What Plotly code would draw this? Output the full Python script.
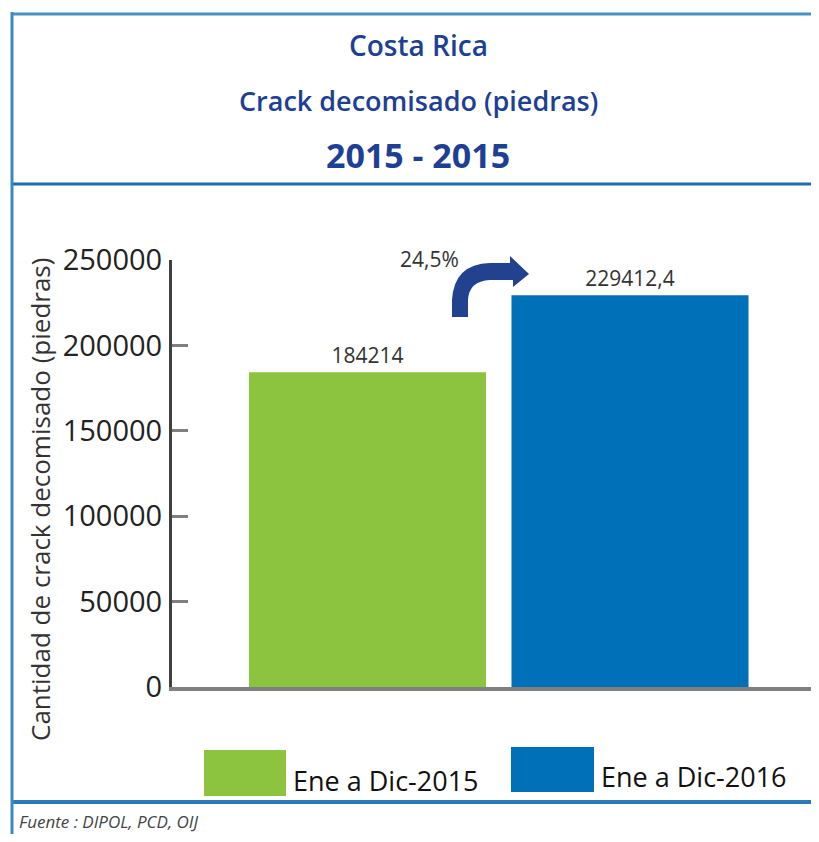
import plotly.graph_objects as go

# ---- data ----
categories = ["Ene a Dic-2015", "Ene a Dic-2016"]
values = [184214, 229412.4]
bar_colors = ["#8cc43f", "#0070b9"]
y_ticks = [0, 50000, 100000, 150000, 200000, 250000]
title_lines = ["Costa Rica", "Crack decomisado (piedras)", "2015 - 2015"]
y_title = "Cantidad de crack decomisado (piedras)"
source_text = "Fuente : DIPOL, PCD, OIJ"

OFF = 8  # browser body margin
W, H = 819 - 2 * OFF, 826
L, R, T, B = 172, OFF + W, 260, 687  # plot area in page pixels
PAGE_BOTTOM = OFF + H
C0, UNIT = 367.5, 262.5  # first bar centre and bar spacing in page pixels


def px(xp):
    return (xp - L) / (R - L)


def py(yp):
    return (B - yp) / (B - T)


def fmt(v):
    s = f"{v:.1f}".rstrip("0").rstrip(".")
    return s.replace(".", ",")


fig = go.Figure()
for i, (cat, val, col) in enumerate(zip(categories, values, bar_colors)):
    fig.add_trace(go.Bar(
        x=[i], y=[val], name=cat, marker=dict(color=col, line=dict(width=0)),
        width=0.903, text=[fmt(val)], textposition="outside",
        textfont=dict(size=21, color="#333333", family="Open Sans"),
        cliponaxis=False, showlegend=False,
    ))


def ann(text, xp, yp, size, color, xanchor="center", **kw):
    font = dict(size=size, color=color, family=kw.pop("family", "Open Sans"))
    font.update(kw.pop("font_extra", {}))
    d = dict(text=text, x=px(xp), y=py(yp), xref="paper", yref="paper",
             xanchor=xanchor, yanchor="middle", showarrow=False, font=font)
    d.update(kw)
    return d


pct = (values[1] / values[0] - 1) * 100
annotations = [
    ann(f"{pct:.1f}%".replace(".", ","), 429, 259, 21, "#333333"),
    ann(y_title, 40, 500, 26, "#333333", textangle=-90),
    ann(source_text, 17, 821, 17, "#444444", xanchor="left", font_extra=dict(style="italic")),
]
title_specs = [(45, 28, 600), (100, 27, 600), (155, 34, 700)]
for line, (yp, size, wt) in zip(title_lines, title_specs):
    annotations.append(ann(line, 418, yp, size, "#1d3f94", font_extra=dict(weight=wt)))

# custom legend
legend_boxes = [(204, 286, 750, 796, 291, 780), (511, 594, 747, 792, 599, 776)]
shapes = []
for cat, col, (x0, x1, y0, y1, tx, ty) in zip(categories, bar_colors, legend_boxes):
    shapes.append(dict(type="rect", xref="paper", yref="paper", x0=px(x0), x1=px(x1),
                       y0=py(y1), y1=py(y0), fillcolor=col, line=dict(width=0)))
    annotations.append(ann(cat, tx, ty, 27, "#111111", xanchor="left"))

# frame lines
frame = [
    (14, "#4a92c6", 3),
    (184, "#1a6aae", 3),
    (802, "#2c7ab8", 4),
]
for yp, col, w in frame:
    shapes.append(dict(type="line", xref="paper", yref="paper", x0=px(12), x1=1.0,
                       y0=py(yp), y1=py(yp), line=dict(color=col, width=w)))
shapes.append(dict(type="line", xref="paper", yref="paper", x0=px(12), x1=px(12),
                   y0=py(12), y1=py(PAGE_BOTTOM), line=dict(color="#3a8ac4", width=3)))

# curved arrow
pts = "M {a} {b} L {c} {d} Q {e} {f} {g} {h} L {i} {h} L {i} {j} L {k} {l} L {m} {n} L {m} {o} L {g} {o} Q {p} {q} {r} {d} L {r} {b} Z"
arrow = pts.format(
    a=px(452), b=py(317), c=px(452), d=py(300), e=px(454), f=py(264), g=px(490), h=py(263),
    i=px(510), j=py(256), k=px(529), l=py(274), m=px(513), n=py(287), o=py(280),
    p=px(469), q=py(281), r=px(468),
)
shapes.append(dict(type="path", xref="paper", yref="paper", path=arrow,
                   fillcolor="#22428f", line=dict(width=0)))

fig.update_layout(
    width=W, height=H,
    margin=dict(l=L - OFF, r=OFF + W - R, t=T - OFF, b=PAGE_BOTTOM - B, pad=0),
    paper_bgcolor="white", plot_bgcolor="white",
    barmode="overlay",
    shapes=shapes, annotations=annotations,
    showlegend=False,
    xaxis=dict(range=[(L - C0) / UNIT, (R - C0) / UNIT], showticklabels=False,
               showgrid=False, zeroline=False,
               showline=True, linecolor="#808080", linewidth=4, ticks=""),
    yaxis=dict(range=[0, 250000], tickvals=y_ticks, ticktext=[str(v) for v in y_ticks],
               showgrid=False, zeroline=False, showline=True, linecolor="#404040", linewidth=3,
               ticks="inside", ticklen=16, tickwidth=3, tickcolor="#808080",
               ticklabelstandoff=1,
               tickfont=dict(size=29, color="#222222", family="Open Sans")),
)

fig.write_html("out.html")
